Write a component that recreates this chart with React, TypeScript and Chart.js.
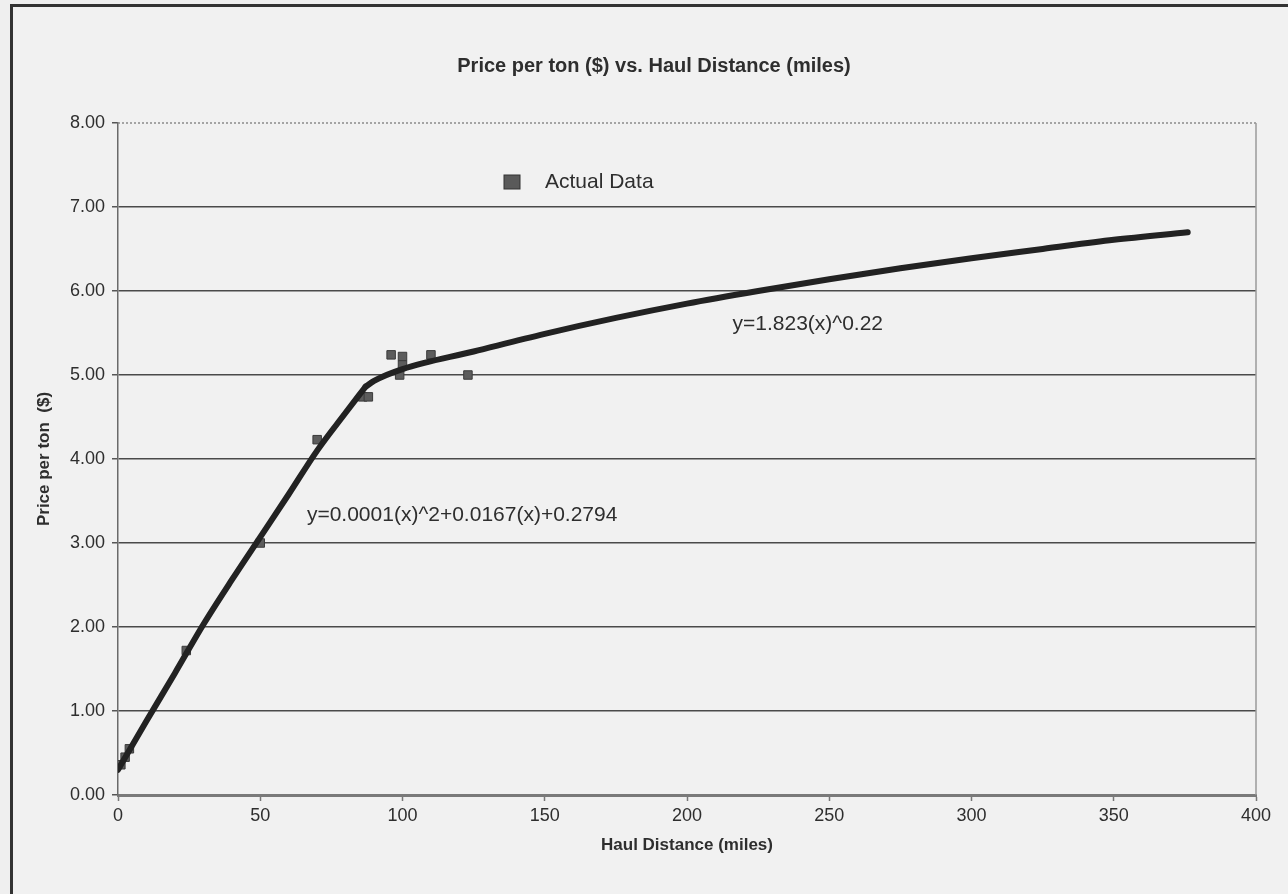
import React, { useEffect, useRef } from "react";
import { Chart, registerables } from "chart.js";

Chart.register(...registerables);

// Observed data (haul distance in miles, price per ton in $)
const distanceMiles = [1, 2.5, 4, 24, 50, 70, 86, 88, 96, 100, 100, 99, 110, 123];
const pricePerTon = [0.36, 0.45, 0.55, 1.72, 3.0, 4.23, 4.74, 4.74, 5.24, 5.22, 5.12, 5.0, 5.24, 5.0];

// Fitted curves (short-haul part, long-haul part)
const shortFitMiles = [0, 10, 20, 30, 40, 50, 60, 70, 80, 87];
const shortFitPrice = [0.3, 0.88, 1.45, 2.03, 2.56, 3.07, 3.58, 4.1, 4.55, 4.86];
const longFitMiles = [87, 90, 100, 125, 150, 175, 200, 225, 250, 275, 300, 325, 350, 376];
const longFitPrice = [4.86, 4.93, 5.07, 5.28, 5.49, 5.68, 5.85, 6.0, 6.14, 6.27, 6.39, 6.5, 6.61, 6.7];

const yTicks = [0, 1, 2, 3, 4, 5, 6, 7, 8];
const xTicks = [0, 50, 100, 150, 200, 250, 300, 350, 400];

const chartTitle = "Price per ton ($) vs. Haul Distance (miles)";
const xTitle = "Haul Distance (miles)";
const yTitle = "Price per ton  ($)";
const legendLabel = "Actual Data";
const powerLabel = "y=1.823(x)^0.22";
const quadLabel = "y=0.0001(x)^2+0.0167(x)+0.2794";
const powerLabelAt = [216, 5.61];
const quadLabelAt = [66.4, 3.33];

const FONT = "'Liberation Sans', Arial, sans-serif";
const TEXT = "#2e2e2e";
const CURVE = "#222222";

const decorPlugin = {
  id: "decor",
  beforeDatasetsDraw(chart: any) {
    const { ctx, chartArea } = chart;
    ctx.save();
    ctx.strokeStyle = "#8a8a8a";
    ctx.lineWidth = 1.5;
    ctx.setLineDash([2, 2]);
    ctx.beginPath();
    ctx.moveTo(chartArea.left, chartArea.top);
    ctx.lineTo(chartArea.right, chartArea.top);
    ctx.stroke();
    ctx.setLineDash([]);
    ctx.strokeStyle = "#9a9a9a";
    ctx.beginPath();
    ctx.moveTo(chartArea.right, chartArea.top);
    ctx.lineTo(chartArea.right, chartArea.bottom);
    ctx.stroke();
    ctx.restore();
  },
  afterDraw(chart: any) {
    const { ctx, chartArea, scales } = chart;
    ctx.save();
    ctx.fillStyle = TEXT;
    ctx.font = `bold 20px ${FONT}`;
    ctx.textAlign = "center";
    ctx.textBaseline = "middle";
    ctx.fillText(chartTitle, chart.width / 2 + 10, 66);
    const lx = chartArea.left + 386;
    const ly = chartArea.top + 59;
    ctx.fillStyle = "#5a5a5a";
    ctx.strokeStyle = "#333";
    ctx.lineWidth = 1;
    ctx.fillRect(lx, ly - 7, 16, 14);
    ctx.strokeRect(lx, ly - 7, 16, 14);
    ctx.fillStyle = TEXT;
    ctx.font = `21px ${FONT}`;
    ctx.textAlign = "left";
    ctx.fillText(legendLabel, lx + 41, ly);
    ctx.fillText(powerLabel, scales.x.getPixelForValue(powerLabelAt[0]), scales.y.getPixelForValue(powerLabelAt[1]));
    ctx.fillText(quadLabel, scales.x.getPixelForValue(quadLabelAt[0]), scales.y.getPixelForValue(quadLabelAt[1]));
    ctx.restore();
  },
};

export default function App() {
  const ref = useRef<HTMLCanvasElement | null>(null);
  useEffect(() => {
    if (!ref.current) return;
    const curveStyle = {
      showLine: true,
      borderColor: CURVE,
      borderWidth: 6,
      borderCapStyle: "round",
      borderJoinStyle: "round",
      pointRadius: 0,
      cubicInterpolationMode: "monotone",
      order: 0,
    };
    const chart = new Chart(ref.current, {
      type: "scatter",
      data: {
        datasets: [
          { label: "Short-haul fit", data: shortFitMiles.map((x, i) => ({ x, y: shortFitPrice[i] })), ...curveStyle },
          { label: "Long-haul fit", data: longFitMiles.map((x, i) => ({ x, y: longFitPrice[i] })), ...curveStyle },
          {
            label: legendLabel,
            data: distanceMiles.map((x, i) => ({ x, y: pricePerTon[i] })),
            pointStyle: "rect",
            pointRadius: 6,
            backgroundColor: "#5c5c5c",
            borderColor: "#3a3a3a",
            borderWidth: 1,
            order: 1,
          },
        ],
      },
      options: {
        animation: false,
        responsive: false,
        maintainAspectRatio: false,
        layout: { padding: { left: 0, right: 32, top: 123, bottom: 0 } },
        plugins: {
          legend: { display: false },
          title: { display: false },
          tooltip: { enabled: false },
        },
        scales: {
          x: {
            type: "linear",
            min: 0,
            max: 400,
            afterBuildTicks: (s: any) => {
              s.ticks = xTicks.map((v) => ({ value: v }));
            },
            afterFit: (s: any) => {
              s.height = 99;
            },
            ticks: {
              color: TEXT,
              font: { family: FONT, size: 18 },
              padding: 4,
              maxRotation: 0,
              callback: (v: any) => String(v),
            },
            grid: {
              drawOnChartArea: false,
              drawTicks: true,
              tickLength: 6,
              tickColor: "#777",
              tickWidth: 1.5,
            },
            border: { color: "#7a7a7a", width: 3 },
            title: {
              display: true,
              text: xTitle,
              color: TEXT,
              font: { family: FONT, size: 17, weight: "bold" },
              padding: { top: 0, bottom: 38 },
            },
          },
          y: {
            type: "linear",
            min: 0,
            max: 8,
            afterBuildTicks: (s: any) => {
              s.ticks = yTicks.map((v) => ({ value: v }));
            },
            afterFit: (s: any) => {
              s.width = 118;
            },
            ticks: {
              color: TEXT,
              font: { family: FONT, size: 18 },
              padding: 7,
              callback: (v: any) => Number(v).toFixed(2),
            },
            grid: {
              color: (c: any) => (c.tick && c.tick.value === 8 ? "rgba(0,0,0,0)" : "#4a4a4a"),
              lineWidth: 1.5,
              tickLength: 6,
              tickColor: "#555",
              tickWidth: 1.5,
            },
            border: { color: "#6a6a6a", width: 1.5 },
            title: {
              display: true,
              text: yTitle,
              color: TEXT,
              font: { family: FONT, size: 17, weight: "bold" },
              padding: { top: 34, bottom: 0 },
            },
          },
        },
      },
      plugins: [decorPlugin],
    } as any);
    return () => chart.destroy();
  }, []);

  return (
    <div style={{ position: "fixed", left: 0, top: 0, width: 1288, height: 894, background: "#efefef", overflow: "hidden" }}>
      <div
        style={{
          position: "absolute",
          left: 10,
          top: 4,
          width: 1300,
          height: 920,
          borderLeft: "3px solid #333",
          borderTop: "3px solid #333",
          background: "#f1f1f1",
        }}
      />
      <canvas ref={ref} width={1288} height={894} style={{ position: "absolute", left: 0, top: 0, width: 1288, height: 894 }} />
    </div>
  );
}
